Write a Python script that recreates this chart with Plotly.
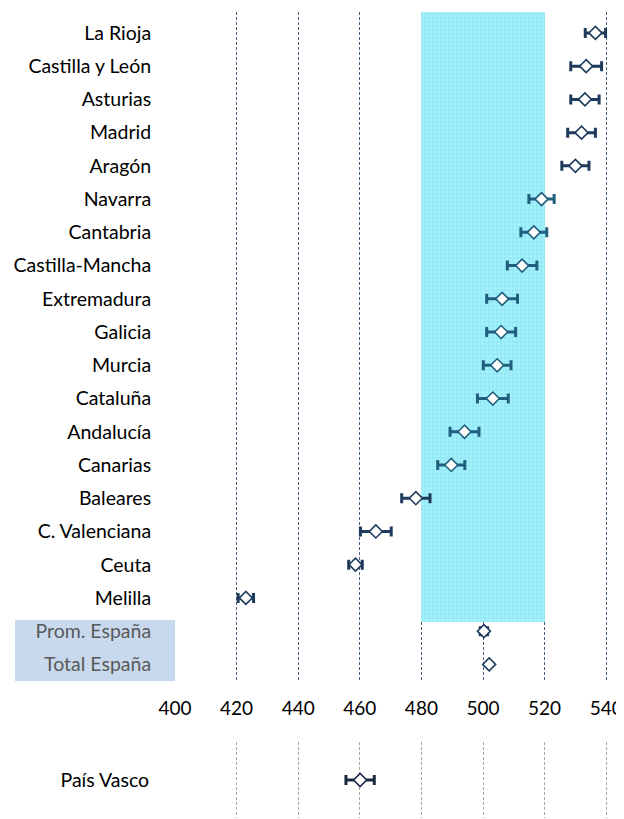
import plotly.graph_objects as go

regions = ["La Rioja", "Castilla y León", "Asturias", "Madrid", "Aragón", "Navarra",
           "Cantabria", "Castilla-Mancha", "Extremadura", "Galicia", "Murcia", "Cataluña",
           "Andalucía", "Canarias", "Baleares", "C. Valenciana", "Ceuta", "Melilla",
           "Prom. España"]
means = [536.5, 533.5, 533.1, 532.0, 530.0, 519.0, 516.5, 512.7, 506.2, 505.9, 504.6, 503.2,
         494.0, 489.7, 478.2, 465.2, 458.6, 423.0, 500.3]
errs = [3.3, 5.0, 4.6, 4.5, 4.4, 4.1, 4.2, 4.8, 5.0, 4.7, 4.5, 5.0,
        4.7, 4.4, 4.6, 5.0, 2.2, 2.5, 1.2]

total_label = "Total España"
total_value = 502.0

pv_label = "País Vasco"
pv_value = 460.1
pv_err = 4.6

x_ticks = [400, 420, 440, 460, 480, 500, 520, 540]
band = [480, 520]

navy = "#1f3b5c"
teal = "#215f7e"
row_idx = list(range(len(regions)))
total_idx = len(regions)

fig = go.Figure()

# patterned band 480-520
top_edge = -0.63
band_bottom = 17.72
fig.add_trace(go.Bar(
    x=[band[1] - band[0]], base=[band[0]], y=[(top_edge + band_bottom) / 2],
    width=[band_bottom - top_edge], orientation="h",
    marker=dict(color="#a8f0fa", line=dict(width=0),
                pattern=dict(shape="+", fgcolor="#55dcf0", size=4, solidity=0.3)),
    hoverinfo="skip", showlegend=False, xaxis="x", yaxis="y"))

# split points: inside the shaded band (tinted) vs outside
inside = [i for i in row_idx if i < band_bottom and band[0] <= means[i] <= band[1]]
outside = [i for i in row_idx if i not in inside]

for idx, col in ((outside, navy), (inside, teal)):
    fig.add_trace(go.Scatter(
        x=[means[i] for i in idx], y=idx, mode="markers",
        marker=dict(symbol="diamond", size=10, color="white", line=dict(color=col, width=1.6)),
        error_x=dict(type="data", array=[errs[i] for i in idx], color=col, thickness=3, width=5),
        showlegend=False, xaxis="x", yaxis="y"))

fig.add_trace(go.Scatter(
    x=[total_value], y=[total_idx], mode="markers",
    marker=dict(symbol="diamond", size=10, color="white", line=dict(color=navy, width=1.6)),
    showlegend=False, xaxis="x", yaxis="y"))

fig.add_trace(go.Scatter(
    x=[pv_value], y=[0], mode="markers",
    marker=dict(symbol="diamond", size=10, color="white", line=dict(color="#1a2a40", width=1.6)),
    error_x=dict(type="data", array=[pv_err], color="#1a2a40", thickness=3, width=5),
    showlegend=False, xaxis="x2", yaxis="y2"))

ticktext = regions[:-1] + [
    "<span style='color:#595959'>" + regions[-1] + "</span>",
    "<span style='color:#595959'>" + total_label + "</span>"]

# page body has an 8px offset
OFF = 8
W, H = 616, 811
ml, mr, mt, mb = 167, 15, 4, 0
ph = H - mt - mb
pw = W - ml - mr

def py(pix):
    return (H - mb - (pix - OFF)) / ph

def px(pix):
    return (pix - OFF - ml) / pw

xmax = 400 + pw / 3.08

fig.update_layout(
    width=W, height=H,
    margin=dict(l=ml, r=mr, t=mt, b=mb, autoexpand=False),
    paper_bgcolor="white", plot_bgcolor="rgba(0,0,0,0)",
    font=dict(family="Lato, Open Sans, sans-serif", color="black", size=19.5),
    bargap=0,
    xaxis=dict(range=[400, xmax], tickvals=x_ticks, showgrid=True,
               gridcolor="#4a5f7a", griddash="3px,2px", gridwidth=1,
               zeroline=False, showline=False, ticks="outside", ticklen=0,
               ticklabelstandoff=10, tickfont=dict(size=19),
               domain=[0, 1], anchor="y"),
    yaxis=dict(range=[19.5, top_edge], tickvals=row_idx + [total_idx], ticktext=ticktext,
               showgrid=False, zeroline=False, showline=False,
               ticks="outside", ticklen=0, ticklabelstandoff=19,
               domain=[py(681), 1.0]),
    xaxis2=dict(range=[400, xmax], tickvals=x_ticks, showgrid=True, matches="x",
                gridcolor="#a6a6a6", griddash="3px,2px", gridwidth=1,
                zeroline=False, showline=False, showticklabels=False, anchor="y2"),
    yaxis2=dict(range=[-1, 1], tickvals=[0], ticktext=[pv_label], showgrid=False,
                zeroline=False, showline=False, ticks="outside", ticklen=0,
                ticklabelstandoff=21, domain=[max(py(818), 0), py(742)]),
    shapes=[dict(type="rect", xref="paper", yref="paper",
                 x0=px(15), x1=0, y0=py(681), y1=py(620),
                 fillcolor="#c8d9ee", line=dict(width=0), layer="below")],
)

fig.write_html("out.html")
